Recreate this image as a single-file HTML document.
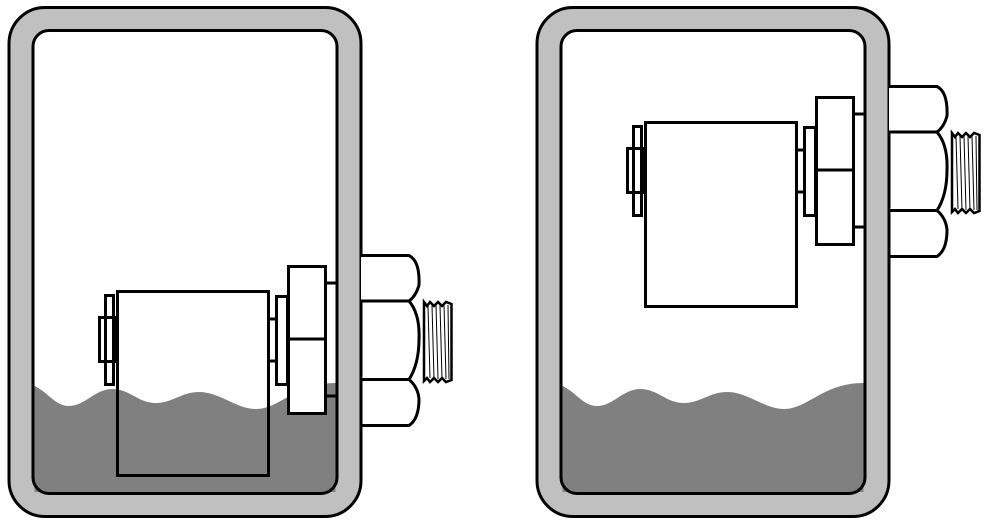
<!DOCTYPE html>
<html><head><style>body{margin:0;background:#fff}svg{display:block}</style></head><body>
<svg width="987" height="524" viewBox="0 0 987 524" xmlns="http://www.w3.org/2000/svg">
<defs>
<g id="tank">
  <rect x="9" y="7.5" width="352" height="509" rx="36" fill="#c0c0c0" stroke="#000" stroke-width="3"/>
  <rect x="33" y="30.5" width="304" height="463" rx="16" fill="#fff"/>
  <path d="M34.5 386 C48 392 55 406 69 406 C85 406 95 389 112 389 C130 389 138 403 156 403 C172 403 182 392 199 392 C220 392 236 409 256 409 C280 409 295 383 335.5 383 L335.5 492 L34.5 492 Z" fill="#808080"/>
  <rect x="33" y="30.5" width="304" height="463" rx="16" fill="none" stroke="#000" stroke-width="3"/>
</g>
<g id="comp" fill="none" stroke="#000" stroke-width="3">
  <rect x="645.5" y="122.5" width="151" height="184"/>
  <rect x="627.5" y="148.5" width="17" height="44" fill="#fff"/>
  <rect x="633.5" y="126.5" width="8" height="89" fill="none"/>
  <line x1="797" y1="150" x2="804" y2="150"/><line x1="797" y1="192" x2="804" y2="192"/>
  <rect x="804.5" y="127.5" width="11" height="88" fill="#fff"/>
  <rect x="816.5" y="97.5" width="37" height="147" fill="#fff"/>
  <line x1="816" y1="170" x2="853" y2="170"/>
  <line x1="853" y1="114" x2="865" y2="114"/><line x1="853" y1="227" x2="865" y2="227"/>
  <path d="M889 86.5 L937 86.5 Q948 92 947 116 Q944 127 937 132 L889 132 M937 132 Q948 145 947 170 Q947 195 937 210.5 L889 210.5 M937 210.5 Q946 218 947 230 Q947 250 937 256.5 L889 256.5" fill="#fff"/>
  <path d="M952 133 L955 137 L958 133 L962 137 L966 133 L970 137 L974 133 L979.5 135 L979.5 211 L974 213 L970 209 L966 213 L962 209 L958 213 L955 209 L952 212 Z" fill="#fff" stroke-width="2.5"/>
  <g stroke-width="1"><line x1="956" y1="137" x2="958" y2="209"/><line x1="960" y1="136" x2="962" y2="210"/><line x1="964" y1="136" x2="966" y2="210"/><line x1="968" y1="136" x2="970" y2="210"/><line x1="972" y1="136" x2="974" y2="210"/><line x1="976" y1="136" x2="977" y2="210"/></g>
</g>
</defs>
<use href="#tank"/>
<use href="#tank" transform="translate(528,0)"/>
<use href="#comp"/>
<use href="#comp" transform="translate(-528,169)"/>
</svg>
</body></html>
